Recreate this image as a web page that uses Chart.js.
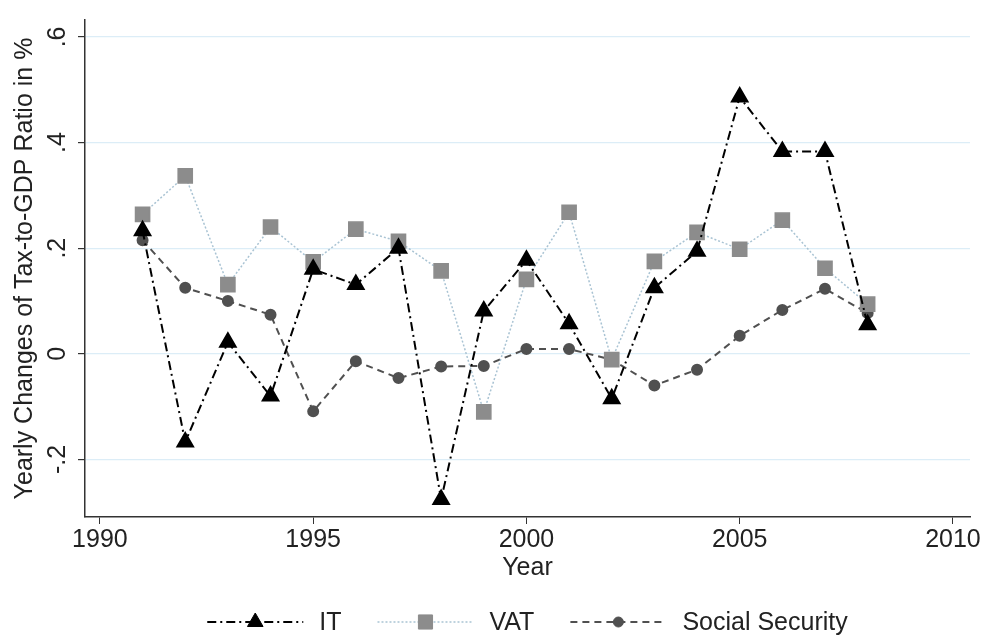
<!DOCTYPE html>
<html>
<head>
<meta charset="utf-8">
<script src="https://cdn.jsdelivr.net/npm/chart.js@4.4.0/dist/chart.umd.min.js"></script>
<style>
  html, body { margin: 0; padding: 0; background: #fff; }
  #wrap { width: 982px; height: 635px; }
</style>
</head>
<body>
<div id="wrap"><canvas id="chart" width="982" height="635"></canvas></div>
<script>
// values
const years = [1991, 1992, 1993, 1994, 1995, 1996, 1997, 1998, 1999, 2000, 2001, 2002, 2003, 2004, 2005, 2006, 2007, 2008];
const itValues  = [0.233, -0.167, 0.022, -0.080, 0.160, 0.131, 0.200, -0.276, 0.081, 0.177, 0.057, -0.085, 0.125, 0.194, 0.486, 0.383, 0.383, 0.055];
const vatValues = [0.264, 0.337, 0.131, 0.240, 0.174, 0.236, 0.213, 0.157, -0.110, 0.141, 0.268, -0.011, 0.175, 0.230, 0.198, 0.253, 0.162, 0.094];
const ssValues  = [0.215, 0.125, 0.100, 0.074, -0.109, -0.014, -0.046, -0.024, -0.023, 0.009, 0.009, -0.011, -0.060, -0.030, 0.034, 0.083, 0.123, 0.077];
const xTicks = [1990, 1995, 2000, 2005, 2010];
const yTicks = [-0.2, 0, 0.2, 0.4, 0.6];
const seriesNames = ['IT', 'VAT', 'Social Security'];

const FONT = '"Liberation Sans", Arial, sans-serif';
const FSIZE = 25;
const toPoints = vals => years.map((yr, i) => ({ x: yr, y: vals[i] }));

const bottomLegend = {
  id: 'bottomLegend',
  afterDraw(chart) {
    const ctx = chart.ctx;
    const area = chart.chartArea;
    ctx.save();
    ctx.font = FSIZE + 'px ' + FONT;
    const sample = 96, gapText = 16, gapItem = 36;
    const items = chart.data.datasets.map(ds => ({ ds, w: sample + gapText + ctx.measureText(ds.label).width }));
    const total = items.reduce((a, b) => a + b.w, 0) + gapItem * (items.length - 1);
    let x = (area.left + area.right) / 2 - total / 2;
    const y = 622;
    items.forEach(({ ds, w }) => {
      ctx.strokeStyle = ds.borderColor;
      ctx.lineWidth = ds.borderWidth;
      ctx.setLineDash(ds.borderDash || []);
      ctx.beginPath();
      ctx.moveTo(x, y);
      ctx.lineTo(x + sample, y);
      ctx.stroke();
      ctx.setLineDash([]);
      ctx.fillStyle = ds.pointBackgroundColor;
      ctx.strokeStyle = ds.pointBorderColor;
      ctx.lineWidth = 1;
      Chart.helpers.drawPoint(ctx, { pointStyle: ds.pointStyle, radius: ds.pointRadius, borderWidth: 1 }, x + sample / 2, y);
      ctx.fillStyle = '#222';
      ctx.textBaseline = 'middle';
      ctx.textAlign = 'left';
      ctx.fillText(ds.label, x + sample + gapText, y + 1);
      x += w + gapItem;
    });
    ctx.restore();
  }
};

new Chart(document.getElementById('chart'), {
  type: 'line',
  data: {
    datasets: [
      {
        label: seriesNames[0],
        data: toPoints(itValues),
        borderColor: '#000',
        borderWidth: 2,
        borderDash: [9, 4, 2, 4],
        pointStyle: 'triangle',
        pointRadius: 9,
        pointBackgroundColor: '#000',
        pointBorderColor: '#000',
        tension: 0
      },
      {
        label: seriesNames[1],
        data: toPoints(vatValues),
        borderColor: '#a9c3d3',
        borderWidth: 1.5,
        borderDash: [2, 2],
        pointStyle: 'rect',
        pointRadius: 10,
        pointBackgroundColor: '#8c8c8c',
        pointBorderColor: '#8c8c8c',
        tension: 0
      },
      {
        label: seriesNames[2],
        data: toPoints(ssValues),
        borderColor: '#505050',
        borderWidth: 2,
        borderDash: [7, 5],
        pointStyle: 'circle',
        pointRadius: 5,
        pointBackgroundColor: '#505050',
        pointBorderColor: '#505050',
        tension: 0
      }
    ]
  },
  options: {
    responsive: false,
    animation: false,
    devicePixelRatio: 1,
    layout: { padding: { top: 18, right: 12, bottom: 52, left: 0 } },
    plugins: {
      legend: { display: false },
      tooltip: { enabled: false }
    },
    scales: {
      x: {
        type: 'linear',
        min: 1989.65,
        max: 2010.4,
        afterBuildTicks: s => { s.ticks = xTicks.map(v => ({ value: v })); },
        afterFit: s => { s.height = 66; },
        ticks: {
          color: '#222',
          font: { family: FONT, size: FSIZE },
          padding: 1,
          maxRotation: 0,
          callback: v => String(v)
        },
        grid: { display: true, drawOnChartArea: false, drawTicks: true, tickLength: 7, tickColor: '#333' },
        border: { display: true, color: '#333', width: 1.5 },
        title: {
          display: true,
          text: 'Year',
          color: '#222',
          font: { family: FONT, size: FSIZE },
          padding: { top: 0, bottom: 0 }
        }
      },
      y: {
        min: -0.309,
        max: 0.632,
        afterBuildTicks: s => { s.ticks = yTicks.map(v => ({ value: v })); },
        afterFit: s => { s.width = 85; },
        ticks: {
          color: '#222',
          font: { family: FONT, size: FSIZE },
          minRotation: 90,
          maxRotation: 90,
          crossAlign: 'center',
          padding: 5,
          callback: v => v === 0 ? '0' : v.toFixed(1).replace('0.', '.')
        },
        grid: { display: true, drawOnChartArea: true, color: '#dcedf7', lineWidth: 1.2, drawTicks: true, tickLength: 7, tickColor: '#333' },
        border: { display: true, color: '#333', width: 1.5 },
        title: {
          display: true,
          text: 'Yearly Changes of Tax-to-GDP Ratio in %',
          color: '#222',
          font: { family: FONT, size: FSIZE },
          padding: { top: 10, bottom: 0 }
        }
      }
    }
  },
  plugins: [bottomLegend]
});
</script>
</body>
</html>
